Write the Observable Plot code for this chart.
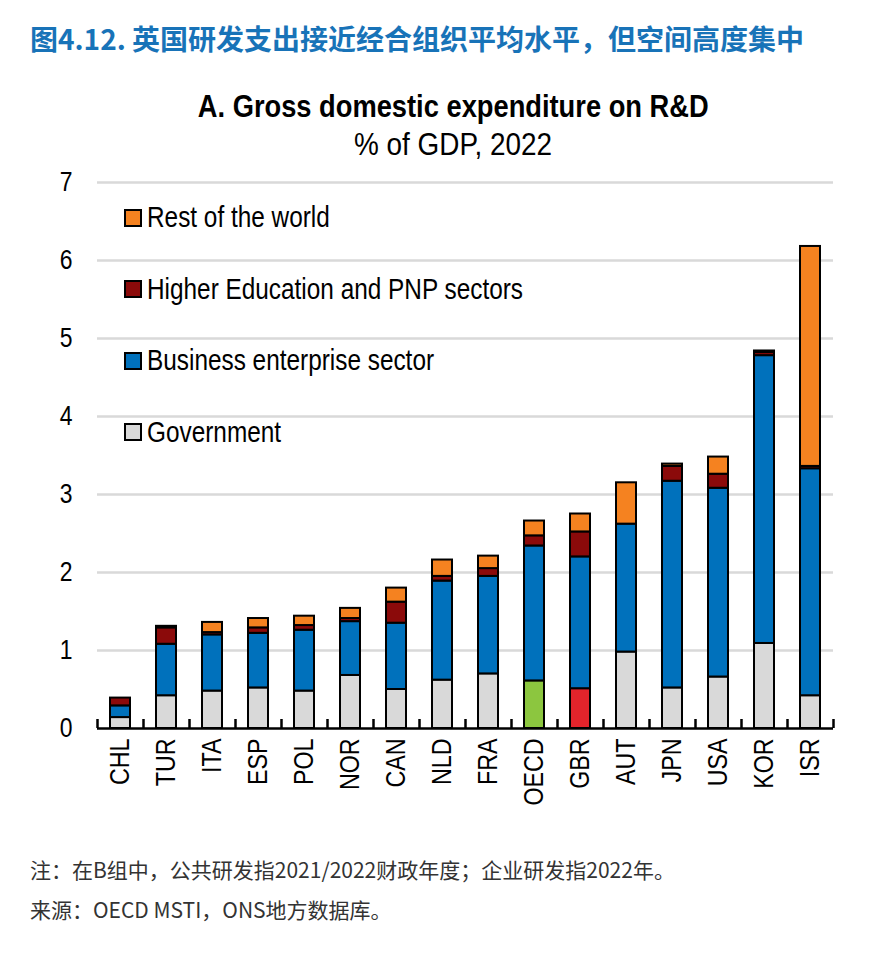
<!DOCTYPE html>
<html>
<head>
<meta charset="utf-8">
<script src="https://cdn.jsdelivr.net/npm/d3@7"></script>
<script src="https://cdn.jsdelivr.net/npm/@observablehq/plot@0.6"></script>
<style>
  body { margin: 0; background: #fff; }
  #page { position: relative; width: 890px; height: 953px; overflow: hidden; background: #fff;
          font-family: "Liberation Sans", Arial, sans-serif; color: #000; }
  #title { position: absolute; left: 30px; top: 24px; line-height: 1; white-space: nowrap;
           font-family: "Noto Sans CJK SC", sans-serif; font-weight: 700; font-size: 28px; color: #1873b8; }
  .sub { position: absolute; left: 0; width: 906px; text-align: center; line-height: 1; white-space: nowrap; font-size: 31px; }
  .sub span { display: inline-block; transform-origin: center center; }
  #sub1 { top: 91px; font-weight: 700; }
  #sub1 span { transform: scaleX(0.88); }
  #sub2 { top: 129px; }
  #sub2 span { transform: scaleX(0.9); }
  #chart { position: absolute; left: 0; top: 160px; }
  #legend { position: absolute; left: 125px; top: 182px; }
  .lg-swatches { margin: 0; font-family: "Liberation Sans", Arial, sans-serif; font-size: 29px; color: #000; }
  .lg-swatch { height: 71.5px; padding-bottom: 0; }
  .lg-swatch > svg { margin-right: 6px; overflow: visible; }
  .lg-swatch > svg rect { stroke: #000; stroke-width: 2px; }
  .lg-swatch-label { transform: scaleX(0.84); transform-origin: left center; overflow: visible !important; }
  .note { position: absolute; left: 30px; line-height: 1; white-space: nowrap; font-family: "Noto Sans CJK SC", sans-serif; font-size: 21px; color: #333; }
  #note1 { top: 859px; }
  #note2 { top: 899px; }
</style>
</head>
<body>
<div id="page">
  <div id="title">图4.12. 英国研发支出接近经合组织平均水平，但空间高度集中</div>
  <div class="sub" id="sub1"><span>A. Gross domestic expenditure on R&amp;D</span></div>
  <div class="sub" id="sub2"><span>% of GDP, 2022</span></div>
  <div id="chart"></div>
  <div id="legend"></div>
  <div class="note" id="note1">注：在B组中，公共研发指2021/2022财政年度；企业研发指2022年。</div>
  <div class="note" id="note2">来源：OECD MSTI，ONS地方数据库。</div>
</div>
<script>
// Gross domestic expenditure on R&D by source of funds, % of GDP, 2022
const countries = ["CHL", "TUR", "ITA", "ESP", "POL", "NOR", "CAN", "NLD", "FRA", "OECD", "GBR", "AUT", "JPN", "USA", "KOR", "ISR"];
const government  = [0.14, 0.42, 0.48, 0.52, 0.48, 0.68, 0.50, 0.62, 0.70, 0.61, 0.51, 0.98, 0.52, 0.66, 1.09, 0.42];
const business    = [0.15, 0.66, 0.72, 0.70, 0.78, 0.69, 0.85, 1.27, 1.25, 1.73, 1.69, 1.64, 2.65, 2.42, 3.69, 2.91];
const higherEdPnp = [0.10, 0.21, 0.03, 0.07, 0.06, 0.04, 0.27, 0.06, 0.10, 0.13, 0.32, 0.00, 0.19, 0.18, 0.04, 0.03];
const restOfWorld = [0.00, 0.02, 0.13, 0.12, 0.12, 0.13, 0.18, 0.21, 0.16, 0.19, 0.23, 0.53, 0.03, 0.22, 0.02, 2.82];
const yTicks = [0, 1, 2, 3, 4, 5, 6, 7];

// series in stacking order (bottom to top)
const seriesNames = ["Government", "Business enterprise sector", "Higher Education and PNP sectors", "Rest of the world"];
const seriesValues = [government, business, higherEdPnp, restOfWorld];
const seriesColors = ["#d9d9d9", "#0071bc", "#8b0a0a", "#f58220"];
// the government share of the OECD average and of the UK is highlighted
const governmentHighlight = {OECD: "#8cc63f", GBR: "#e3242b"};

const rows = [];
countries.forEach((country, i) => {
  seriesNames.forEach((series, s) => {
    const fill = s === 0 && governmentHighlight[country] ? governmentHighlight[country] : seriesColors[s];
    rows.push({country, series, value: seriesValues[s][i], fill});
  });
});

const W = 890, ML = 97, MR = 57;
const halfStep = (W - ML - MR) / countries.length / 2;

const chart = Plot.plot({
  width: W,
  height: 660,
  marginTop: 22,
  marginBottom: 92,
  marginLeft: ML,
  marginRight: MR,
  style: {fontFamily: '"Liberation Sans", Arial, sans-serif', fontSize: "28px", color: "#000", background: "#fff", overflow: "visible"},
  x: {domain: countries, paddingInner: 0.565, paddingOuter: 0.2825, label: null},
  y: {domain: [0, 7], label: null},
  marks: [
    Plot.ruleY(yTicks.filter(d => d > 0), {stroke: "#d9d9d9", strokeWidth: 2.5}),
    Plot.axisY(yTicks, {tickSize: 0, tickPadding: 25, fontSize: 27, tickFormat: "d", label: null}),
    Plot.barY(rows, Plot.stackY({x: "country", y: "value", z: "series", fill: "fill", stroke: "#000", strokeWidth: 2})),
    Plot.ruleY([0], {stroke: "#000", strokeWidth: 2.5}),
    Plot.axisX({tickSize: 0, tickPadding: 10, tickRotate: -90, fontSize: 28, label: null}),
    Plot.axisX(countries, {tickSize: -9, dx: -halfStep, tickFormat: () => "", strokeWidth: 2.5, label: null}),
    Plot.axisX(countries.slice(-1), {tickSize: -9, dx: halfStep, tickFormat: () => "", strokeWidth: 2.5, label: null})
  ]
});

// condensed lettering for the tick labels, scaled about each label's anchor
function condense(selector, k) {
  chart.querySelectorAll(selector).forEach(t => {
    let tr = t.getAttribute("transform");
    if (!tr) {
      tr = `translate(${t.getAttribute("x") || 0},${t.getAttribute("y") || 0})`;
      t.removeAttribute("x");
      t.removeAttribute("y");
    }
    t.setAttribute("transform", `${tr} scale(${k},1)`);
  });
}
condense('g[aria-label="x-axis tick label"] text', 0.83);
condense('g[aria-label="y-axis tick label"] text', 0.85);
document.getElementById("chart").append(chart);

const legendOrder = [3, 2, 1, 0];
const legend = Plot.legend({
  color: {domain: legendOrder.map(i => seriesNames[i]), range: legendOrder.map(i => seriesColors[i])},
  legend: "swatches",
  columns: 1,
  swatchSize: 16,
  className: "lg"
});
document.getElementById("legend").append(legend);
</script>
</body>
</html>
